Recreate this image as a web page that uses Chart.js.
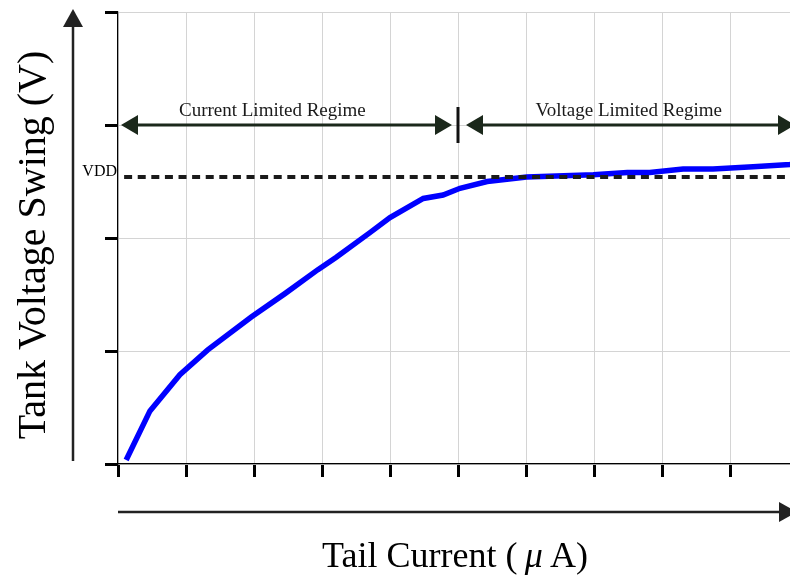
<!DOCTYPE html>
<html>
<head>
    <title>Tank Voltage Swing vs Tail Current</title>
    <script src="https://cdn.jsdelivr.net/npm/chart.js"></script>
    <style>
        body {
            margin: 0;
            background: white;
            overflow: hidden;
        }

        .wrap {
            position: relative;
            width: 810px;
            height: 579px;
        }
    </style>
</head>
<body>
    <div class="wrap">
        <canvas id="swingChart"></canvas>
    </div>

    <script>
        // tail current (grid units) and tank swing (grid units)
        const tailCurrent = [0.12, 0.47, 0.91, 1.32, 1.96, 2.46, 2.94, 3.21, 3.71, 4.0, 4.49, 4.78, 5.03, 5.43, 6.01, 6.99, 7.49, 7.82, 8.31, 8.75, 9.34, 9.88, 10];
        const tankSwing = [0.035, 0.47, 0.79, 1.01, 1.30, 1.51, 1.72, 1.83, 2.05, 2.18, 2.35, 2.38, 2.44, 2.50, 2.54, 2.56, 2.58, 2.58, 2.61, 2.61, 2.63, 2.65, 2.66];
        const vddLevel = 2.54;
        const vddSpan = [0.09, 10];
        const regimeLabels = ['Current Limited Regime', 'Voltage Limited Regime'];
        const regimeBoundary = 5;
        const regimeLevel = 3;

        const serif = "'Liberation Serif', 'DejaVu Serif', serif";

        function arrowHead(ctx, x, y, angle, len, half) {
            ctx.save();
            ctx.translate(x, y);
            ctx.rotate(angle);
            ctx.beginPath();
            ctx.moveTo(0, 0);
            ctx.lineTo(-len, -half);
            ctx.lineTo(-len, half);
            ctx.closePath();
            ctx.fill();
            ctx.restore();
        }

        const decorations = {
            id: 'decorations',
            afterDraw(chart) {
                const ctx = chart.ctx;
                const xs = chart.scales.x, ys = chart.scales.y;
                const area = chart.chartArea;
                ctx.save();

                // regime arrows
                const ry = ys.getPixelForValue(regimeLevel);
                const bx = xs.getPixelForValue(regimeBoundary);
                ctx.strokeStyle = '#1b281b';
                ctx.fillStyle = '#1b281b';
                ctx.lineWidth = 3;
                const segs = [
                    [xs.getPixelForValue(0) + 3, bx - 6],
                    [bx + 8, xs.getPixelForValue(10) - 3]
                ];
                segs.forEach(([a, b]) => {
                    ctx.beginPath();
                    ctx.moveTo(a + 10, ry);
                    ctx.lineTo(b - 10, ry);
                    ctx.stroke();
                    arrowHead(ctx, a, ry, Math.PI, 17, 10);
                    arrowHead(ctx, b, ry, 0, 17, 10);
                });
                ctx.strokeStyle = '#111';
                ctx.beginPath();
                ctx.moveTo(bx, ry - 18);
                ctx.lineTo(bx, ry + 18);
                ctx.stroke();

                ctx.fillStyle = '#1a1a1a';
                ctx.font = '19px ' + serif;
                ctx.textAlign = 'center';
                ctx.textBaseline = 'alphabetic';
                ctx.fillText(regimeLabels[0], xs.getPixelForValue(2.27), ry - 9);
                ctx.fillText(regimeLabels[1], xs.getPixelForValue(7.51), ry - 9);

                // VDD label
                ctx.fillStyle = '#000';
                ctx.font = '16px ' + serif;
                ctx.textAlign = 'right';
                ctx.fillText('VDD', area.left - 1, ys.getPixelForValue(vddLevel) - 1);

                // outer axis arrows
                ctx.strokeStyle = '#222';
                ctx.fillStyle = '#222';
                ctx.lineWidth = 2.5;
                ctx.beginPath();
                ctx.moveTo(73, area.bottom - 3);
                ctx.lineTo(73, 20);
                ctx.stroke();
                arrowHead(ctx, 73, 9, -Math.PI / 2, 18, 10);

                ctx.beginPath();
                ctx.moveTo(area.left, 512);
                ctx.lineTo(area.right - 10, 512);
                ctx.stroke();
                arrowHead(ctx, area.right - 1, 512, 0, 18, 10);

                // x title, with an italic mu
                ctx.fillStyle = '#000';
                ctx.textAlign = 'left';
                const parts = [
                    ['Tail Current (\u2009', '36px ' + serif],
                    ['\u03bc', 'italic 36px ' + serif],
                    ['\u2009A)', '36px ' + serif]
                ];
                let total = 0;
                parts.forEach(([t, f]) => { ctx.font = f; total += ctx.measureText(t).width; });
                let px = 455 - total / 2;
                parts.forEach(([t, f]) => {
                    ctx.font = f;
                    ctx.fillText(t, px, 567);
                    px += ctx.measureText(t).width;
                });

                // y title
                ctx.textAlign = 'center';
                ctx.translate(45, 245);
                ctx.rotate(-Math.PI / 2);
                ctx.font = '40px ' + serif;
                ctx.fillText('Tank Voltage Swing (V)', 0, 0);
                ctx.restore();
            }
        };

        new Chart(document.getElementById('swingChart'), {
            type: 'line',
            data: {
                datasets: [{
                    data: vddSpan.map(x => ({ x, y: vddLevel })),
                    borderColor: '#1a1a1a',
                    borderWidth: 4,
                    borderDash: [8, 5.6],
                    pointRadius: 0,
                    order: 0
                }, {
                    data: tailCurrent.map((x, i) => ({ x, y: tankSwing[i] })),
                    borderColor: '#0000ff',
                    borderWidth: 5.5,
                    pointRadius: 0,
                    tension: 0,
                    order: 1
                }]
            },
            options: {
                responsive: true,
                maintainAspectRatio: false,
                animation: false,
                layout: { padding: { top: 12, right: 12, left: 0, bottom: 0 } },
                plugins: {
                    legend: { display: false },
                    tooltip: { enabled: false }
                },
                scales: {
                    x: {
                        type: 'linear',
                        min: 0,
                        max: 10,
                        afterFit: s => { s.height = 115; },
                        ticks: { display: false, stepSize: 1 },
                        grid: {
                            color: '#d4d4d4',
                            lineWidth: 1,
                            tickColor: '#000',
                            tickWidth: 3,
                            tickLength: 13
                        },
                        border: { color: '#000', width: 1.2 }
                    },
                    y: {
                        min: 0,
                        max: 4,
                        afterFit: s => { s.width = 118; },
                        ticks: { display: false, stepSize: 1 },
                        grid: {
                            color: '#d4d4d4',
                            lineWidth: 1,
                            tickColor: '#000',
                            tickWidth: 3,
                            tickLength: 13
                        },
                        border: { color: '#000', width: 1.2 }
                    }
                }
            },
            plugins: [decorations]
        });
    </script>
</body>
</html>
